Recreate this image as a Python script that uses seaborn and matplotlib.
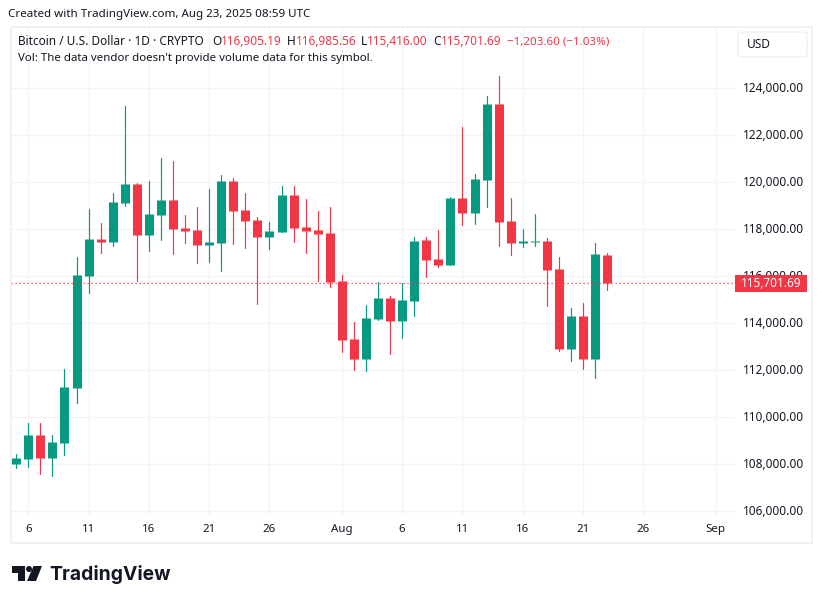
import numpy as np
import pandas as pd
import matplotlib
matplotlib.use("Agg")
import matplotlib.pyplot as plt
from matplotlib.patches import FancyBboxPatch, Polygon, Circle, Rectangle
from matplotlib.transforms import ScaledTranslation
import seaborn as sns

# daily candles, Jul 5 to Aug 23 2025
dates = pd.date_range("2025-07-05", "2025-08-23", freq="D")
opens = [108000, 108213, 109234, 108255, 108893, 111233, 116015, 117589, 117461, 119120,
         119928, 117759, 118610, 119248, 118057, 117972, 117334, 117419, 120056, 118822,
         118397, 117674, 117901, 119475, 118113, 117986, 117858, 115816, 113349, 112498,
         114200, 115093, 114115, 114965, 117560, 116752, 116497, 119333, 118695, 120099,
         123332, 118354, 117419, 117461, 117504, 116313, 112909, 114313, 112484, 116905.19]
highs = [108425, 109744, 109744, 109234, 112041, 116823, 118865, 118269, 119546, 123247,
         119971, 120056, 121035, 120907, 118610, 118950, 119716, 120311, 120184, 119546,
         118525, 118312, 119858, 119858, 119305, 118794, 118964, 116071, 114072, 114795,
         115774, 115178, 115731, 117688, 117688, 117986, 119390, 122353, 120354, 123672,
         124523, 119333, 118014, 118652, 117631, 116823, 114653, 114866, 117419, 116985.56]
lows = [107830, 107872, 107575, 107490, 108383, 110595, 115306, 116993, 117291, 118993,
        115802, 117078, 117546, 116951, 117419, 116568, 116610, 116228, 117376, 117206,
        114824, 117163, 117901, 117475, 117007, 115816, 115561, 112796, 112030, 111988,
        114157, 112711, 113392, 114327, 115986, 116412, 116497, 118184, 118227, 118950,
        117291, 116908, 117248, 117291, 114739, 112824, 112399, 112058, 111676, 115416.00]
closes = [108255, 109234, 108255, 108936, 111276, 116057, 117589, 117461, 119163, 119928,
          117759, 118652, 119248, 118014, 117929, 117334, 117461, 120056, 118780, 118355,
          117674, 117929, 119475, 118071, 117943, 117816, 115774, 113306, 112498, 114242,
          115093, 114115, 115008, 117518, 116710, 116497, 119347, 118695, 120141, 123332,
          118312, 117419, 117504, 117504, 116270, 112909, 114313, 112484, 116951, 115701.69]

last_price = 115701.69
price_ticks = [106000, 108000, 110000, 112000, 114000, 116000, 118000, 120000, 122000, 124000]
date_ticks = ["2025-07-06", "2025-07-11", "2025-07-16", "2025-07-21", "2025-07-26", "2025-08-01",
              "2025-08-06", "2025-08-11", "2025-08-16", "2025-08-21", "2025-08-26", "2025-09-01"]
date_labels = ["6", "11", "16", "21", "26", "Aug", "6", "11", "16", "21", "26", "Sep"]

GREEN = "#089981"
RED = "#F23645"
INK = "#131722"
GRID = "#F3F3F3"
FONT = ["Noto Sans", "DejaVu Sans"]

sns.set_style("white")
plt.rcParams["font.family"] = FONT

df = pd.DataFrame({"date": dates, "open": opens, "high": highs, "low": lows, "close": closes})
df["dir"] = np.where(df["close"] >= df["open"], "up", "down")
df["candle"] = np.arange(len(df))
wicks = df.melt(id_vars=["date", "dir", "candle"], value_vars=["low", "high"], value_name="price")
bodies = df.melt(id_vars=["date", "dir", "candle"], value_vars=["open", "close"], value_name="price")
palette = {"up": GREEN, "down": RED}

fig = plt.figure(figsize=(8.22, 6.04), dpi=100, facecolor="white")
# pane runs from x 11 to 735 and y 27 to 516 in image pixels
ax = fig.add_axes([11 / 822, 1 - 516 / 604, (735 - 11) / 822, (516 - 27) / 604])

sns.lineplot(data=wicks, x="date", y="price", hue="dir", units="candle", estimator=None, sort=False,
             palette=palette, linewidth=0.85, legend=False, ax=ax, zorder=3)
sns.lineplot(data=bodies, x="date", y="price", hue="dir", units="candle", estimator=None, sort=False,
             palette=palette, linewidth=6.5, solid_capstyle="butt", legend=False, ax=ax, zorder=4)

ax.axhline(last_price, color=RED, lw=0.9, ls=(0, (1, 2.2)), zorder=5)

ax.set_xlim(pd.Timestamp("2025-07-06") - pd.Timedelta(days=1.434), pd.Timestamp("2025-07-06") + pd.Timedelta(days=58.6))
ax.set_ylim(105801, 126608)
ax.set_xlabel("")
ax.set_ylabel("")
ax.grid(True, color=GRID, lw=0.9)
ax.set_axisbelow(True)
for s in ax.spines.values():
    s.set_visible(False)

ax.set_xticks(pd.to_datetime(date_ticks))
ax.set_xticklabels(date_labels, fontsize=8.3, color=INK)
for lab, txt in zip(ax.get_xticklabels(), date_labels):
    if not txt.isdigit():
        lab.set_fontweight("bold")
ax.tick_params(axis="x", length=0, pad=6)

ax.yaxis.tick_right()
ax.set_yticks(price_ticks)
ax.set_yticklabels([f"{p:,.2f}" for p in price_ticks], fontsize=8.5, color=INK)
ax.tick_params(axis="y", length=0, pad=5.5)
# labels sit about a pixel above their grid line in the original
nudge = ScaledTranslation(0, 1.3 / 100, fig.dpi_scale_trans)
for lab in ax.get_yticklabels():
    lab.set_transform(lab.get_transform() + nudge)

# overlay in image pixels for frame, header, price tag and logo
ov = fig.add_axes([0, 0, 1, 1], zorder=10)
ov.set_xlim(0, 822)
ov.set_ylim(604, 0)
ov.axis("off")
ov.patch.set_alpha(0)

ov.add_patch(Rectangle((10.5, 26.5), 801.5, 516.5, fill=False, ec="#EFEFEF", lw=1.2))
ov.add_patch(FancyBboxPatch((740, 34), 65, 21, boxstyle="round,pad=2,rounding_size=3",
                            fc="white", ec="#F0F0F0", lw=1))
ov.text(747, 44.5, "USD", fontsize=8.6, color=INK, va="center")

ov.add_patch(Rectangle((735, 275), 72, 17, fc=RED, ec="none"))
ov.text(771, 283.5, f"{last_price:,.2f}", fontsize=8.5, color="white", va="center", ha="center")

ov.text(8, 14.5, "Created with TradingView.com, Aug 23, 2025 08:59 UTC", fontsize=8.35, color=INK, va="center")
ov.text(18, 41.5, "Bitcoin / U.S. Dollar · 1D · CRYPTO", fontsize=8.5, color=INK, va="center")
ov.text(18, 58.5, "Vol: The data vendor doesn't provide volume data for this symbol.", fontsize=8.25, color=INK, va="center")
for x0, letter, x1, val in [(212, "O", 221, "116,905.19"), (287, "H", 296, "116,985.56"),
                            (361, "L", 367, "115,416.00"), (433, "C", 441, "115,701.69")]:
    ov.text(x0, 41.5, letter, fontsize=8.5, color=INK, va="center")
    ov.text(x1, 41.5, val, fontsize=8.5, color=RED, va="center")
ov.text(507, 41.5, "−1,203.60 (−1.03%)", fontsize=8.3, color=RED, va="center")

# logo
ov.add_patch(Polygon([(12, 566), (25, 566), (25, 581), (18, 581), (18, 572.5), (12, 572.5)], fc=INK, ec="none"))
ov.add_patch(Circle((29, 569), 3, fc=INK, ec="none"))
ov.add_patch(Polygon([(33.5, 566), (42, 566), (36, 581), (27, 581)], fc=INK, ec="none"))
ov.text(49, 574, "TradingView", fontsize=13.9, fontweight="bold", family="Inter", color=INK, va="center")

fig.savefig("out.png", dpi=100)
